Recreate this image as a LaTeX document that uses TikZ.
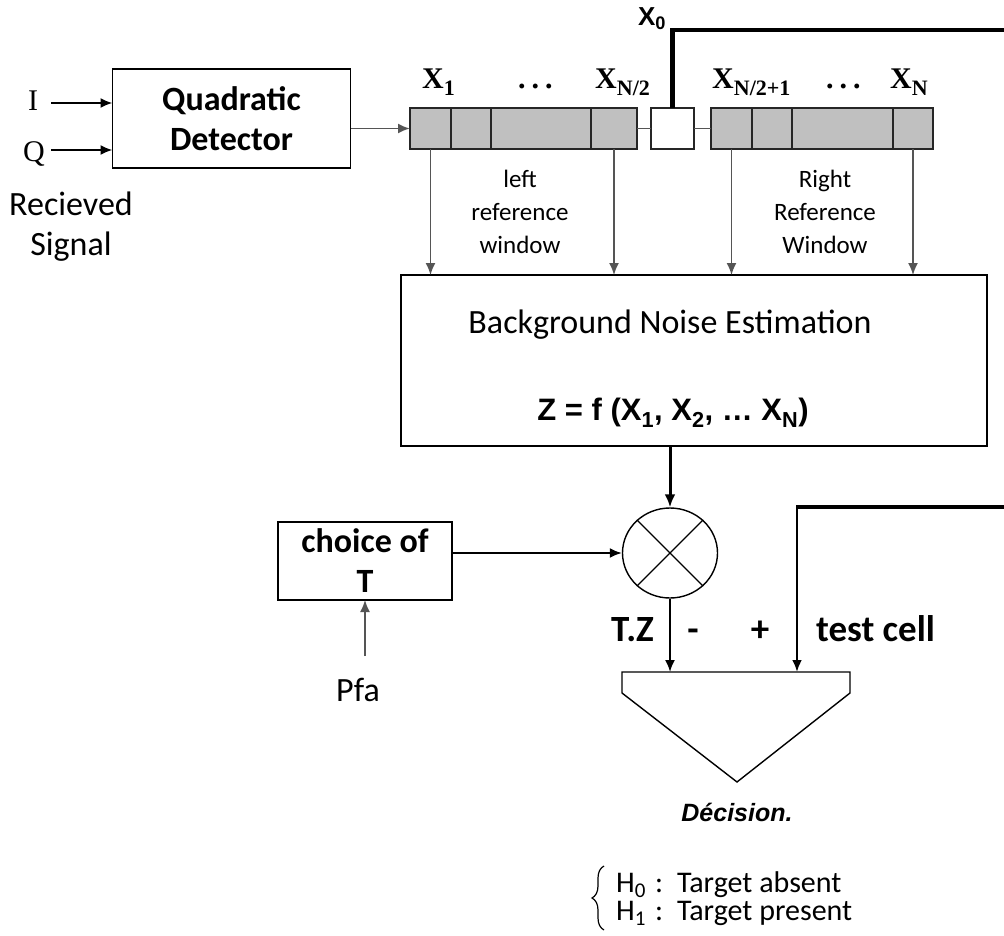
\documentclass[tikz,border=0pt]{standalone}
\usepackage{fontspec}
\setmainfont{Carlito}
\newfontfamily\tmsfont{Liberation Serif}
\newfontfamily\arialfont{Liberation Sans}
\usetikzlibrary{arrows.meta,positioning,shapes.geometric,calc,decorations.pathreplacing}
\definecolor{cellgray}{RGB}{192,192,192}
\definecolor{wiregray}{RGB}{85,85,85}
\newcommand{\cellsub}[1]{\raisebox{-0.22em}{\fontsize{22}{22}\selectfont #1}}
\newcommand{\celldots}{.\hspace{6pt}.\hspace{6pt}.}

\begin{document}
\begin{tikzpicture}[x=1pt, y=-1pt,
  blk/.style={draw, line width=1.6pt, inner sep=0pt, outer sep=0pt, align=center},
  cell/.style={draw=black!85, fill=cellgray, line width=1.6pt, minimum height=41pt, inner sep=0pt, outer sep=0pt},
  wire/.style={draw=wiregray, line width=1.6pt, -{Latex[length=12pt,width=10pt]}},
  darkwire/.style={draw=black, line width=1.9pt, -{Latex[length=12pt,width=10pt]}},
  bus/.style={line width=4.5pt, line join=miter},
  big/.style={font=\fontsize{34}{40}\selectfont},
  bigb/.style={font=\fontsize{34}{40}\selectfont\bfseries},
  small/.style={font=\fontsize{25}{33}\selectfont},
  xlab/.style={font=\fontsize{30}{32}\selectfont\tmsfont\bfseries, anchor=base west, inner sep=0pt},
  sign/.style={font=\fontsize{37}{40}\selectfont\bfseries, anchor=base, inner sep=0pt}]
  \useasboundingbox (0,0) rectangle (1004,936);

  % --- input and detector ---
  \node[blk, bigb, minimum width=238pt, minimum height=99pt] (qd) at (231.5,118.5) {Quadratic\\Detector};
  \node[font=\fontsize{30}{30}\selectfont\tmsfont, anchor=base, inner sep=0pt] (i) at (33,111) {I};
  \node[font=\fontsize{30}{30}\selectfont\tmsfont, anchor=base, inner sep=0pt] (q) at (34,162) {Q};
  \coordinate (iin) at (51,103);
  \coordinate (qin) at (51,150);
  \draw[darkwire] (iin) -- (qd.west |- iin);
  \draw[darkwire] (qin) -- (qd.west |- qin);
  \node[big, align=center] (rs) at (71,227) {Recieved\\Signal};

  % --- shift register ---
  \node[cell, minimum width=41pt] (l1) at (430.5,128.5) {};
  \node[cell, minimum width=40pt, right=0pt of l1] (l2) {};
  \node[cell, minimum width=100pt, right=0pt of l2] (l3) {};
  \node[cell, minimum width=46pt, right=0pt of l3] (l4) {};
  \node[cell, fill=white, minimum width=43pt] (x0) at (672.5,128.5) {};
  \node[cell, minimum width=41pt] (r1) at (731.5,128.5) {};
  \node[cell, minimum width=40pt, right=0pt of r1] (r2) {};
  \node[cell, minimum width=101pt, right=0pt of r2] (r3) {};
  \node[cell, minimum width=40pt, right=0pt of r3] (r4) {};
  \draw[wiregray, line width=1.6pt] (l4.east) -- (x0.west);
  \draw[wiregray, line width=1.6pt] (x0.east) -- (r1.west);
  \draw[darkwire, draw=wiregray] (qd.east |- l1.west) -- (l1.west);

  % cell labels
  \node[xlab] (lx1) at (422,89) {X\cellsub{1}};
  \node[xlab] (ldots) at (518,89) {\celldots};
  \node[xlab] (lxh) at (595,89) {X\cellsub{N/2}};
  \node[xlab] (rxh) at (712,89) {X\cellsub{N/2+1}};
  \node[xlab] (rdots) at (826,89) {\celldots};
  \node[xlab] (rxn) at (890,89) {X\cellsub{N}};
  \node[font=\fontsize{26}{26}\selectfont\arialfont\bfseries] (lx0) at (652,19) {X\textsubscript{0}};

  % X0 cell out to the right
  \coordinate (x0out) at (1006,30);
  \draw[bus] (x0.north) |- (x0out);

  % --- noise estimation ---
  \node[blk, minimum width=586pt, minimum height=171pt] (bne) at (694,360.5) {};
  \node[font=\fontsize{34}{40}\selectfont] (bnet) at (670,325) {Background Noise Estimation};
  \node[font=\fontsize{31}{34}\selectfont\arialfont\bfseries] (bnez) at (673,413) {Z = f (X\textsubscript{1}, X\textsubscript{2}, \dots\ X\textsubscript{N})};
  \draw[wire] (l1.south) -- (l1.south |- bne.north);
  \draw[wire] (l4.south) -- (l4.south |- bne.north);
  \draw[wire] (r1.south) -- (r1.south |- bne.north);
  \draw[wire] (r4.south) -- (r4.south |- bne.north);
  \node[small, align=center] (lrw) at (520,212) {left\\reference\\window};
  \node[small, align=center] (rrw) at (825,212) {Right\\Reference\\Window};

  % --- threshold multiplier ---
  \node[ellipse, draw, line width=1.4pt, minimum width=95pt, minimum height=90pt, inner sep=0pt] (mul) at (670,553) {};
  \draw[line width=1.2pt] (mul.135) -- (mul.-45);
  \draw[line width=1.2pt] (mul.45) -- (mul.-135);
  \draw[line width=3pt, -{Latex[length=13pt,width=11pt]}] (mul.north |- bne.south) -- (mul.north);

  \node[blk, bigb, minimum width=174pt, minimum height=78pt] (cht) at (365,561) {choice of\\T};
  \draw[darkwire] (cht.east |- mul.west) -- (mul.west);
  \node[big] (pfa) at (358,690) {Pfa};
  \coordinate (pfain) at (cht.south |- 0,656);
  \draw[wire] (pfain) -- (cht.south);

  % --- comparator ---
  \coordinate (dtl) at (622,672);
  \coordinate (dtr) at (850,672);
  \coordinate (dap) at (737,782);
  \draw[line width=1.4pt] (dtl) -- (dtr) -- ++(0,21) -- (dap) -- (622,693) -- cycle;
  \draw[darkwire] (mul.south) -- (mul.south |- dtl);
  \coordinate (tcin) at (797,672);
  \coordinate (tccorner) at (797,507);
  \coordinate (tc) at (1006,507);
  \draw[bus] (tc) -- ([xshift=-1.2pt]tccorner);
  \draw[darkwire, line width=2.4pt] ([yshift=-2pt]tccorner) -- (tcin);
  \node[sign, anchor=base east] (tz) at (654,641) {T.Z};
  \node[sign] (minus) at (693,641) {-};
  \node[sign] (plus) at (760,641) {+};
  \node[sign, anchor=base west] (tcl) at (816,641) {test cell};
  \node[font=\fontsize{25}{30}\selectfont\arialfont\bfseries\itshape] (dec) at (737,812) {Décision.};

  % hypotheses
  \draw[line width=1.2pt, decorate, decoration={brace, amplitude=12pt}] (604,930) -- (604,866);
  \node[font=\fontsize{30}{28}\selectfont, anchor=west, align=left, inner sep=0pt] (hyp) at (616,899)
    {H\textsubscript{0}\hspace{9pt}:\hspace{14pt}Target absent\\H\textsubscript{1}\hspace{9pt}:\hspace{14pt}Target present};
\end{tikzpicture}
\end{document}
